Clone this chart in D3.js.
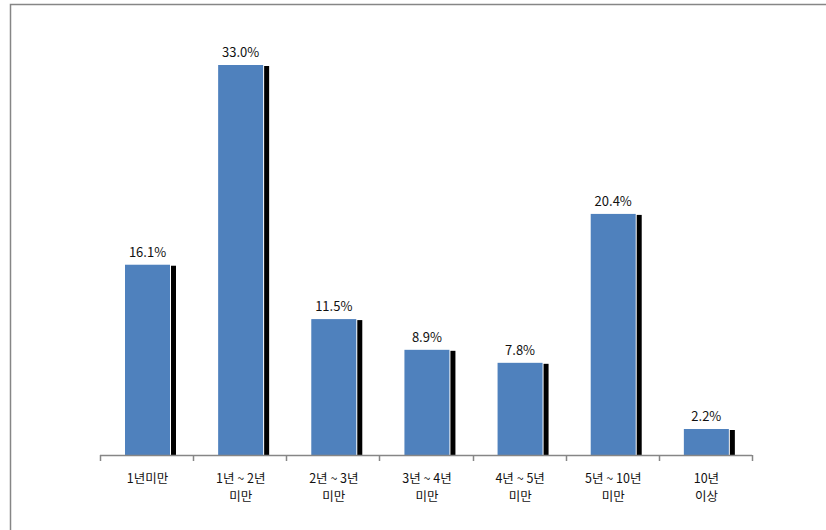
<!DOCTYPE html>
<html><head><meta charset="utf-8">
<script src="https://cdn.jsdelivr.net/npm/d3@7"></script>
<style>body{margin:0;background:#fff}svg{display:block}</style>
</head><body>
<svg id="c" width="826" height="530"></svg>
<script>
const categories = [["1년미만"],["1년 ~ 2년","미만"],["2년 ~ 3년","미만"],["3년 ~ 4년","미만"],["4년 ~ 5년","미만"],["5년 ~ 10년","미만"],["10년","이상"]];
const values = [16.1, 33.0, 11.5, 8.9, 7.8, 20.4, 2.2];
const valueLabels = ["16.1%","33.0%","11.5%","8.9%","7.8%","20.4%","2.2%"];

const svg = d3.select("#c");
const font = "'Noto Sans CJK KR','Noto Sans',sans-serif";
svg.append("rect").attr("x",10.5).attr("y",4.5).attr("width",900).attr("height",600)
  .attr("fill","#fff").attr("stroke","#868686").attr("stroke-width",1.5);

const idx = d3.range(values.length);
const x = d3.scaleBand().domain(idx).range([100,752]).paddingInner(0).paddingOuter(0);
const y = d3.scaleLinear().domain([0,33]).range([455,65]);
const bw = 45, off = 25;

const g = svg.append("g");
g.selectAll("rect.sh").data(idx).enter().append("rect")
  .attr("x",i=>x(i)+off+bw+1).attr("y",i=>y(values[i])+1)
  .attr("width",5).attr("height",i=>455-y(values[i])-1).attr("fill","#000");
g.selectAll("rect.b").data(idx).enter().append("rect")
  .attr("x",i=>x(i)+off).attr("y",i=>y(values[i]))
  .attr("width",bw).attr("height",i=>455-y(values[i])).attr("fill","#4f81bd");
g.selectAll("text.v").data(idx).enter().append("text")
  .attr("x",i=>x(i)+off+bw/2).attr("y",i=>y(values[i])-8)
  .attr("text-anchor","middle").attr("font-family",font).attr("font-size",13)
  .attr("fill","#111").text(i=>valueLabels[i]);

// axis
const ax = svg.append("g");
ax.append("line").attr("x1",100).attr("x2",752).attr("y1",455.5).attr("y2",455.5)
  .attr("stroke","#868686").attr("stroke-width",1.5);
const edges = idx.map(i=>x(i)).concat([752]);
ax.selectAll("line.t").data(edges).enter().append("line")
  .attr("x1",d=>Math.round(d)+0.5).attr("x2",d=>Math.round(d)+0.5).attr("y1",455).attr("y2",461)
  .attr("stroke","#868686").attr("stroke-width",1.5);
idx.forEach(i=>{
  categories[i].forEach((s,k)=>ax.append("text")
    .attr("x",x(i)+x.bandwidth()/2+1).attr("y",483+k*18)
    .attr("text-anchor","middle").attr("font-family",font).attr("font-size",12.5).attr("fill","#111")
    .text(s));
});
</script>
</body></html>
